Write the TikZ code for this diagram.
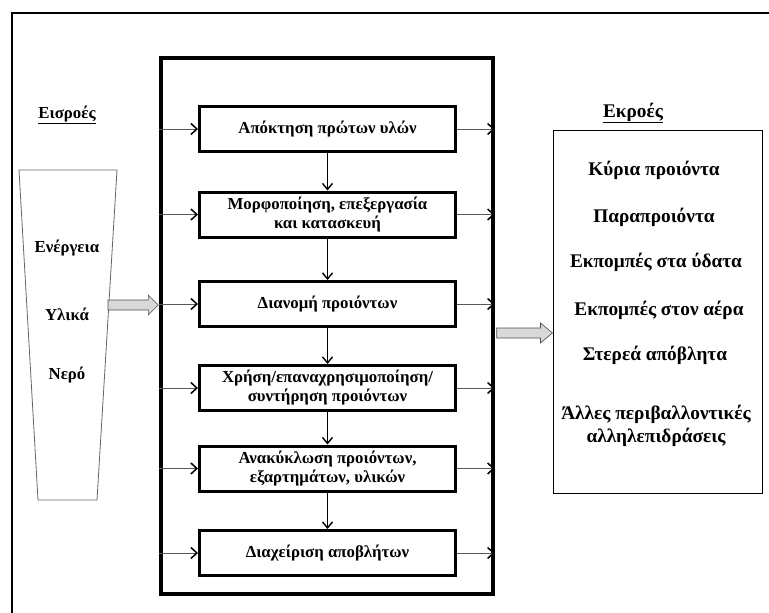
\documentclass[tikz,border=0pt]{standalone}
\usepackage{fontspec}
\setmainfont{Liberation Serif}
\usetikzlibrary{arrows.meta,calc}
\begin{document}
\begin{tikzpicture}[x=1pt,y=-1pt,
  font=\bfseries\fontsize{16.8}{19}\selectfont,
  stepbox/.style={draw, line width=3pt, minimum width=256pt, minimum height=45pt, align=center, inner sep=1pt},
  flow/.style={draw=black!65, line width=0.9pt, -{Straight Barb[length=6pt,width=11pt,line width=1.5pt,color=black]}},
  down/.style={draw=black, line width=0.9pt, -{Straight Barb[length=6pt,width=10pt,line width=1.4pt]}},
  blockarrow/.style={draw=black!70, fill=black!15, line width=0.6pt},
  label/.style={inner sep=1pt},
  biglabel/.style={inner sep=1pt, font=\bfseries\fontsize{19.3}{23}\selectfont}]
\useasboundingbox (0,0) rectangle (769,613);
% outer frame (partly visible)
\draw[line width=1.6pt] (12,613) -- (12,13) -- (769,13);
% main box
\node[draw, line width=3.4pt, minimum width=332pt, minimum height=536pt] (main) at (327,326) {};
% process steps
\node[stepbox] (b1) at (327.5,129) {Απόκτηση πρώτων υλών};
\node[stepbox] (b2) at (327.5,214.5) {Μορφοποίηση, επεξεργασία\\και κατασκευή};
\node[stepbox] (b3) at (327.5,304) {Διανομή προιόντων};
\node[stepbox] (b4) at (327.5,388) {Χρήση/επαναχρησιμοποίηση/\\συντήρηση προιόντων};
\node[stepbox] (b5) at (327.5,468.5) {Ανακύκλωση προιόντων,\\εξαρτημάτων, υλικών};
\node[stepbox] (b6) at (327.5,553) {Διαχείριση αποβλήτων};
\foreach \b in {b1,b2,b3,b4,b5,b6}{
  \draw[flow] (main.west |- \b) -- (\b.west);
  \draw[flow] (\b.east) -- (main.east |- \b);
}
\draw[down] (b1.south) -- (b2.north);
\draw[down] (b2.south) -- (b3.north);
\draw[down] (b3.south) -- (b4.north);
\draw[down] (b4.south) -- (b5.north);
\draw[down] (b5.south) -- (b6.north);
% inputs
\node[label] (inl) at (67,115) {\underline{Εισροές}};
\draw[draw=black!60, line width=0.8pt] (19,170) -- (117,170) -- (97,500) -- (38,500) -- cycle;
\node[label] (en) at (67,248) {Ενέργεια};
\node[label] (yl) at (67,314) {Υλικά};
\node[label] (ne) at (67,375) {Νερό};
\coordinate (ia) at (108,305);
\coordinate (ib) at (main.west |- ia);
\draw[blockarrow] ($(ia)+(0,-5)$) -- ($(ib)+(-11,-5)$) -- ($(ib)+(-11,-10)$) -- ($(ib)+(-1,0)$) -- ($(ib)+(-11,10)$) -- ($(ib)+(-11,5)$) -- ($(ia)+(0,5)$) -- cycle;
% outputs
\node[biglabel] (outl) at (633,113) {\underline{Εκροές}};
\node[draw, line width=1pt, minimum width=209pt, minimum height=363pt] (outbox) at (657.5,311.5) {};
\coordinate (oa) at (main.east |- 0,333);
\coordinate (ob) at (outbox.west |- oa);
\draw[blockarrow] ($(oa)+(2,-5)$) -- ($(ob)+(-12,-5)$) -- ($(ob)+(-12,-10)$) -- (ob) -- ($(ob)+(-12,10)$) -- ($(ob)+(-12,5)$) -- ($(oa)+(2,5)$) -- cycle;
\node[biglabel] (o1) at (654,170) {Κύρια προιόντα};
\node[biglabel] (o2) at (654,217) {Παραπροιόντα};
\node[biglabel] (o3) at (656,262) {Εκπομπές στα ύδατα};
\node[biglabel] (o4) at (659,310) {Εκπομπές στον αέρα};
\node[biglabel] (o5) at (655,355) {Στερεά απόβλητα};
\node[biglabel, align=center] (o6) at (656,426) {Άλλες περιβαλλοντικές\\αλληλεπιδράσεις};
\end{tikzpicture}
\end{document}
